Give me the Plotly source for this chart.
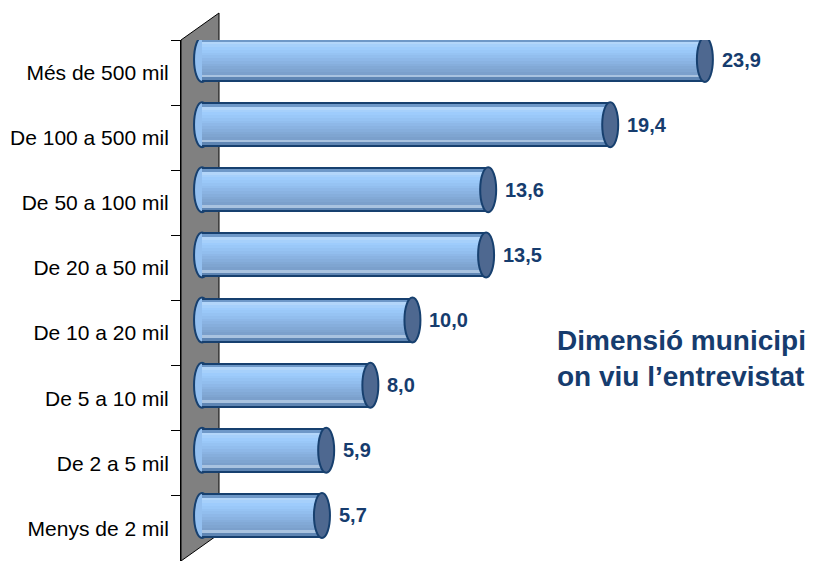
import plotly.graph_objects as go

categories = ["Més de 500 mil", "De 100 a 500 mil", "De 50 a 100 mil", "De 20 a 50 mil",
              "De 10 a 20 mil", "De 5 a 10 mil", "De 2 a 5 mil", "Menys de 2 mil"]
values = [23.9, 19.4, 13.6, 13.5, 10.0, 8.0, 5.9, 5.7]
title_lines = ["Dimensió municipi", "on viu l’entrevistat"]

positions = list(range(len(categories)))
labels_txt = [f"{v:.1f}".replace(".", ",") for v in values]

NAVY = "#163C6E"
OUTLINE = "#17406F"
stripe_colors = ["#6E98C8", "#B3D6FA", "#A6D0FB", "#9ECCFC", "#9AC8F8", "#96C3F3",
                 "#92BEEE", "#8EB8E8", "#8AB3E2", "#86AEDC", "#82A9D6", "#7FA5D1",
                 "#7BA0CC", "#A9C3E0", "#5F86B4"]

BAR_W = 0.69
INNER_W = 0.63
CAP_HALF = 0.38

# page offset compensation (body margin)
OFF = 8
L, T, PW, PH = 181 - OFF, 40 - OFF, 619, 521

fig = go.Figure()

fig.add_trace(go.Scatter(x=values, y=positions, mode="markers", marker=dict(opacity=0),
                         hoverinfo="skip", showlegend=False, xaxis="x", yaxis="y"))

fig.add_trace(go.Bar(x=values, y=positions, orientation="h", width=BAR_W, offset=-BAR_W / 2,
                     marker=dict(color=OUTLINE, line=dict(width=0)), hoverinfo="skip",
                     showlegend=False, xaxis="x", yaxis="y2"))
n = len(stripe_colors)
h = INNER_W / n
for k, c in enumerate(stripe_colors):
    fig.add_trace(go.Bar(x=values, y=positions, orientation="h", width=h * 1.02,
                         offset=-INNER_W / 2 + k * h,
                         marker=dict(color=c, line=dict(width=0)), hoverinfo="skip",
                         showlegend=False, xaxis="x", yaxis="y2"))

shapes = []
shapes.append(dict(type="path", xref="paper", yref="paper",
                   path="M 0,1 L 0.0614,1.0518 L 0.0614,0.0518 L 0,0 Z",
                   fillcolor="#808080", line=dict(color="black", width=1), layer="below"))
for p, v in zip(positions, values):
    shapes.append(dict(type="circle", xref="x", yref="y2", x0=-CAP_HALF, x1=CAP_HALF,
                       y0=p - BAR_W / 2, y1=p + BAR_W / 2, fillcolor="#94C0F0",
                       line=dict(color=OUTLINE, width=2), layer="below"))
    shapes.append(dict(type="circle", xref="x", yref="y2", x0=v - CAP_HALF, x1=v + CAP_HALF,
                       y0=p - BAR_W / 2, y1=p + BAR_W / 2, fillcolor="#4E6890",
                       line=dict(color=OUTLINE, width=2), layer="above"))

annotations = []
for p, v, t in zip(positions, values, labels_txt):
    annotations.append(dict(x=v, y=p, xref="x", yref="y2", text="<b>" + t + "</b>", showarrow=False,
                            xanchor="left", yanchor="middle", xshift=15,
                            font=dict(family="Liberation Sans, Arial", size=20, color=NAVY)))
annotations.append(dict(x=(555 - OFF - L) / PW, y=(T + PH - (358 - OFF)) / PH, xref="paper", yref="paper",
                        text="<b>" + "<br>".join(title_lines) + "</b>", showarrow=False,
                        xanchor="left", yanchor="middle", align="left",
                        font=dict(family="Liberation Sans, Arial", size=28, color=NAVY)))

fig.update_layout(
    width=814, height=561,
    margin=dict(l=L, r=814 - L - PW, t=T, b=561 - T - PH, pad=0),
    paper_bgcolor="white", plot_bgcolor="white",
    barmode="overlay", bargap=0,
    showlegend=False,
    xaxis=dict(range=[-1.0, 28.42], visible=False, fixedrange=True),
    yaxis=dict(range=[7.5, -0.5], tickmode="array", tickvals=positions, ticktext=categories,
               ticks="", showline=True, linecolor="black", linewidth=1, showgrid=False,
               zeroline=False, automargin=False, ticklabelstandoff=7,
               tickfont=dict(family="Liberation Sans, Arial", size=21, color="black"),
               minor=dict(tickmode="array", tickvals=[p - 0.5 for p in positions] + [positions[-1] + 0.5],
                          ticks="outside", ticklen=9, tickcolor="black", showgrid=False)),
    yaxis2=dict(range=[7.7, -0.3], overlaying="y", visible=False, anchor="x"),
    shapes=shapes, annotations=annotations,
)

fig.write_html("out.html")
